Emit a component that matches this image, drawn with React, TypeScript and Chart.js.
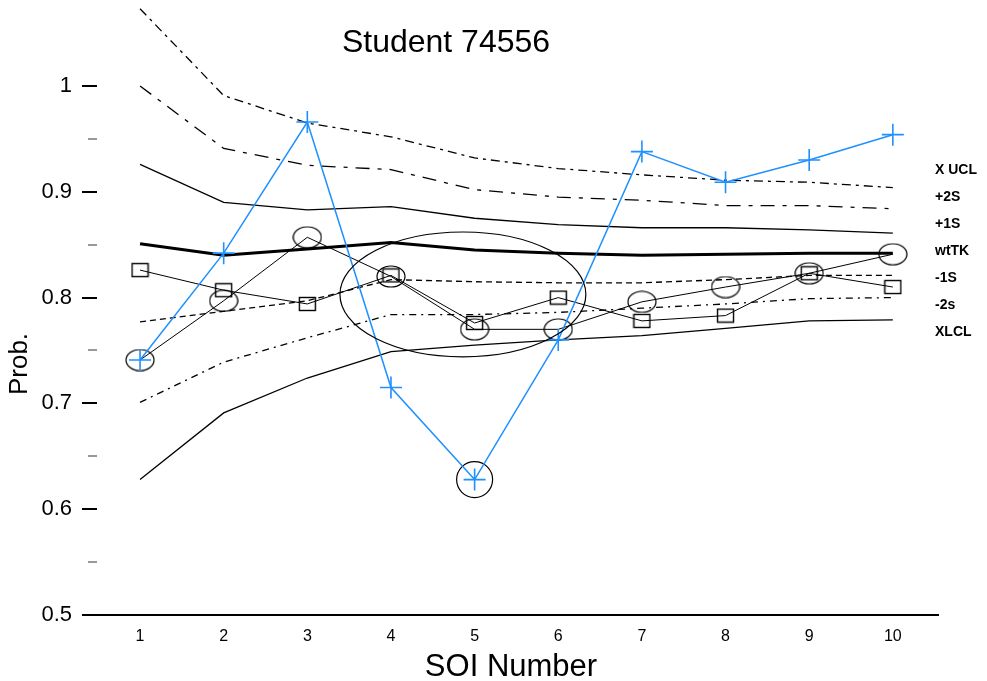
import React, { useEffect, useRef } from "react";
import { Chart, registerables } from "chart.js";

Chart.register(...registerables);

const FONT = "'Liberation Sans', Arial, sans-serif";

// ---- data ----
const soi = [1, 2, 3, 4, 5, 6, 7, 8, 9, 10];
const xUcl = [1.073, 0.991, 0.965, 0.952, 0.932, 0.922, 0.916, 0.911, 0.909, 0.904];
const plus2S = [1.0, 0.941, 0.925, 0.921, 0.902, 0.895, 0.892, 0.887, 0.887, 0.884];
const plus1S = [0.926, 0.89, 0.883, 0.886, 0.875, 0.869, 0.866, 0.866, 0.864, 0.861];
const wtTK = [0.851, 0.84, 0.846, 0.852, 0.845, 0.842, 0.84, 0.841, 0.842, 0.842];
const minus1S = [0.777, 0.787, 0.797, 0.817, 0.815, 0.814, 0.814, 0.817, 0.821, 0.821];
const minus2S = [0.701, 0.739, 0.762, 0.784, 0.784, 0.786, 0.79, 0.794, 0.799, 0.8];
const xLcl = [0.628, 0.691, 0.724, 0.749, 0.755, 0.76, 0.764, 0.771, 0.778, 0.779];
const studentProb = [0.741, 0.842, 0.966, 0.715, 0.628, 0.76, 0.938, 0.909, 0.93, 0.954];
const circleSeries = [0.741, 0.797, 0.857, 0.82, 0.77, 0.77, 0.796, 0.81, 0.823, 0.841];
const squareSeries = [0.826, 0.807, 0.794, 0.821, 0.776, 0.8, 0.778, 0.783, 0.823, 0.81];
const highlightSoi = [5];
const lineLabels = ["X UCL", "+2S", "+1S", "wtTK", "-1S", "-2s", "XLCL"];
const yMajorTicks = [0.5, 0.6, 0.7, 0.8, 0.9, 1.0];
const yMinorTicks = [0.55, 0.65, 0.75, 0.85, 0.95];
const yMin = 0.5;
// ellipse annotation: [center SOI, center prob, half-width SOI, half-height prob]
const clusterEllipse = [4.86, 0.803, 1.47, 0.059];

// vertical scale: pixels per 1.0 of probability
const PX_PER_UNIT = 1058;

const pts = (arr: number[]) => soi.map((s, i) => ({ x: s, y: arr[i] }));

function makeEllipseImg(w: number, h: number) {
  const c = document.createElement("canvas");
  c.width = w + 2;
  c.height = h + 2;
  const g = c.getContext("2d")!;
  g.strokeStyle = "#000";
  g.lineWidth = 1.2;
  g.beginPath();
  g.ellipse((w + 2) / 2, (h + 2) / 2, w / 2, h / 2, 0, 0, Math.PI * 2);
  g.stroke();
  return c;
}

function makeRectImg(w: number, h: number) {
  const c = document.createElement("canvas");
  c.width = w + 2;
  c.height = h + 2;
  const g = c.getContext("2d")!;
  g.strokeStyle = "#000";
  g.lineWidth = 1.4;
  g.strokeRect(1.5, 1.5, w - 1, h - 1);
  return c;
}

const decorPlugin = {
  id: "decor",
  afterDatasetsDraw(chart: any) {
    const { ctx, scales } = chart;
    const x = scales.x;
    const y = scales.y;
    ctx.save();
    // cluster ellipse
    const [ecx, ecy, erx, ery] = clusterEllipse;
    const cx = x.getPixelForValue(ecx);
    const cy = y.getPixelForValue(ecy);
    const rx = Math.abs(x.getPixelForValue(ecx + erx) - cx);
    const ry = Math.abs(y.getPixelForValue(ecy + ery) - cy);
    ctx.strokeStyle = "#000";
    ctx.lineWidth = 1.2;
    ctx.beginPath();
    ctx.ellipse(cx, cy, rx, ry, 0, 0, Math.PI * 2);
    ctx.stroke();

    // y tick marks
    const left = chart.chartArea.left;
    ctx.lineWidth = 2;
    ctx.strokeStyle = "#000";
    yMajorTicks.forEach((v) => {
      const py = Math.round(y.getPixelForValue(v));
      ctx.beginPath();
      ctx.moveTo(left - 2, py);
      ctx.lineTo(left + 13, py);
      ctx.stroke();
    });
    ctx.strokeStyle = "#999";
    yMinorTicks.forEach((v) => {
      const py = Math.round(y.getPixelForValue(v));
      ctx.beginPath();
      ctx.moveTo(left + 4, py);
      ctx.lineTo(left + 13, py);
      ctx.stroke();
    });

    // right-hand line labels
    ctx.fillStyle = "#000";
    ctx.font = `bold 14px ${FONT}`;
    ctx.textAlign = "left";
    ctx.textBaseline = "middle";
    lineLabels.forEach((t, i) => {
      ctx.fillText(t, chart.chartArea.right - 3, 170 + i * 27);
    });

    // title
    ctx.font = `32px ${FONT}`;
    ctx.textAlign = "center";
    ctx.fillText("Student 74556", 446, 43);

    // y title
    ctx.translate(20, 364);
    ctx.rotate(-Math.PI / 2);
    ctx.font = `26px ${FONT}`;
    ctx.fillText("Prob.", 0, 0);
    ctx.restore();
  },
};

export default function App() {
  const ref = useRef<HTMLCanvasElement | null>(null);

  useEffect(() => {
    if (!ref.current) return;
    const circleImg = makeEllipseImg(28, 21);
    const squareImg = makeRectImg(17, 14);
    const ctrl = (data: number[], width: number, dash: number[], order: number) => ({
      data: pts(data),
      borderColor: "#000",
      borderWidth: width,
      borderDash: dash,
      pointRadius: 0,
      fill: false,
      tension: 0,
      clip: false,
      order,
    });
    const fixY = (s: any) => {
      s.min = yMin;
      s.max = yMin + s.height / PX_PER_UNIT;
    };
    const chart = new Chart(ref.current, {
      type: "line",
      data: {
        datasets: [
          {
            data: pts(studentProb),
            borderColor: "#1E90FF",
            borderWidth: 1.5,
            pointStyle: "cross",
            pointRadius: 11,
            pointBorderWidth: 1.6,
            pointBorderColor: "#1E90FF",
            fill: false,
            tension: 0,
            clip: false,
            order: 0,
          },
          {
            data: highlightSoi.map((s) => ({ x: s, y: studentProb[soi.indexOf(s)] })),
            showLine: false,
            pointStyle: "circle",
            pointRadius: 18,
            pointBorderWidth: 1.2,
            pointBorderColor: "#000",
            pointBackgroundColor: "rgba(0,0,0,0)",
            clip: false,
            order: 1,
          },
          {
            data: pts(circleSeries),
            borderColor: "#000",
            borderWidth: 1,
            pointStyle: circleImg,
            pointRadius: 5,
            fill: false,
            tension: 0,
            clip: false,
            order: 2,
          },
          {
            data: pts(squareSeries),
            borderColor: "#000",
            borderWidth: 1,
            pointStyle: squareImg,
            pointRadius: 5,
            fill: false,
            tension: 0,
            clip: false,
            order: 3,
          },
          ctrl(xUcl, 1.3, [9, 5, 3, 5], 4),
          ctrl(plus2S, 1.3, [14, 8, 4, 8], 5),
          ctrl(plus1S, 1.3, [], 6),
          ctrl(wtTK, 3, [], 7),
          ctrl(minus1S, 1.3, [6, 4], 8),
          ctrl(minus2S, 1.3, [7, 5, 2, 5], 9),
          ctrl(xLcl, 1.3, [], 10),
        ] as any,
      },
      options: {
        animation: false,
        responsive: false,
        maintainAspectRatio: false,
        layout: { autoPadding: false, padding: { left: 0, right: 49, top: 0, bottom: 0 } },
        plugins: {
          legend: { display: false },
          tooltip: { enabled: false },
          title: { display: false },
        },
        scales: {
          x: {
            type: "linear",
            bounds: "data",
            min: 0.33,
            max: 10.54,
            afterBuildTicks: (s: any) => {
              s.ticks = soi.map((v) => ({ value: v }));
            },
            afterFit: (s: any) => {
              s.height = 66;
            },
            grid: { display: false, drawTicks: false },
            border: { display: true, color: "#000", width: 2 },
            ticks: {
              padding: 12,
              autoSkip: false,
              maxRotation: 0,
              color: "#000",
              font: { size: 16, family: FONT },
              callback: (v: any) => String(v),
            },
            title: {
              display: true,
              text: "SOI Number",
              color: "#000",
              font: { size: 31, family: FONT, lineHeight: 0.9 },
              padding: { top: 0, bottom: 0 },
            },
          },
          y: {
            type: "linear",
            bounds: "data",
            min: yMin,
            max: 1.08,
            afterDataLimits: fixY,
            afterBuildTicks: (s: any) => {
              fixY(s);
              s.ticks = yMajorTicks.map((v) => ({ value: v }));
            },
            afterFit: (s: any) => {
              s.width = 84;
            },
            grid: { display: false, drawTicks: false },
            border: { display: false },
            ticks: {
              padding: 12,
              color: "#000",
              font: { size: 22, family: FONT },
              callback: (v: any) => (Number(v) === 1 ? "1" : Number(v).toFixed(1)),
            },
          },
        },
      } as any,
      plugins: [decorPlugin],
    });
    return () => chart.destroy();
  }, []);

  return (
    <div style={{ position: "absolute", left: 0, top: 0, width: 987, height: 681, background: "#fff" }}>
      <canvas ref={ref} width={987} height={681} style={{ display: "block" }} />
    </div>
  );
}
